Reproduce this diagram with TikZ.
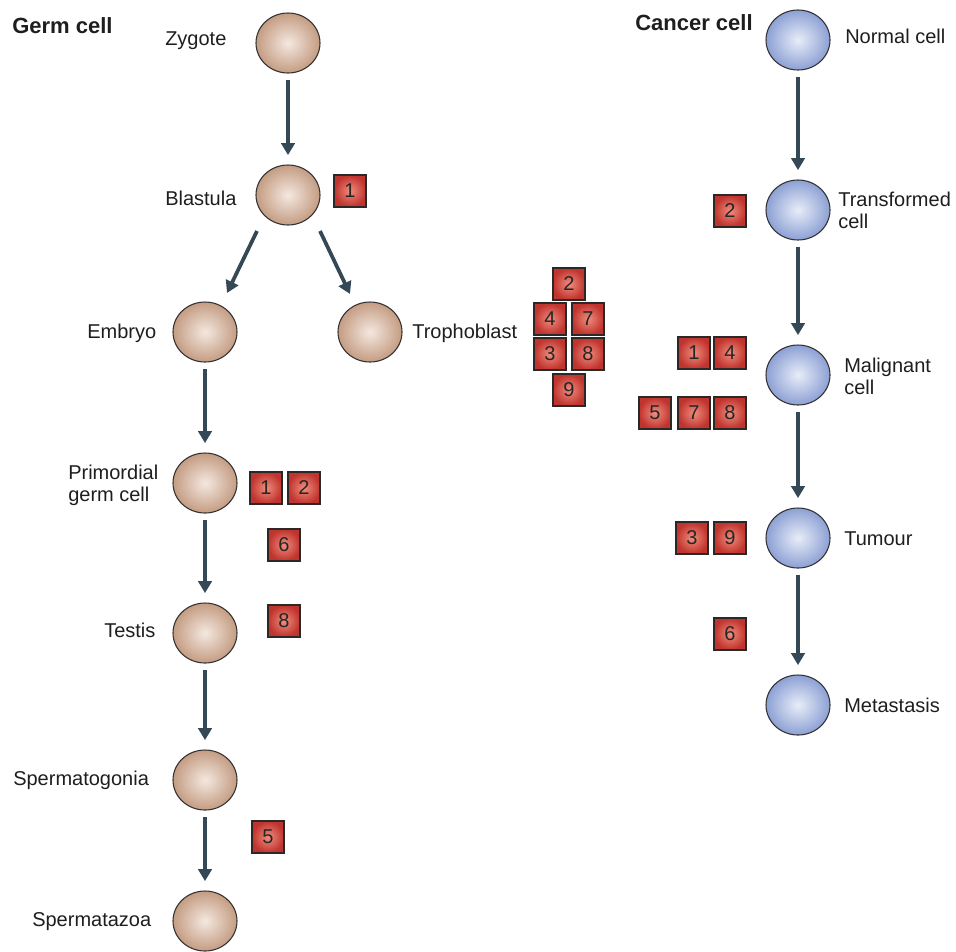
\documentclass[tikz,border=0pt]{standalone}
\usepackage{fontspec}
\setmainfont{Liberation Sans}
\usetikzlibrary{arrows.meta,shapes.geometric,calc}
\definecolor{germin}{RGB}{244,232,224}
\definecolor{germout}{RGB}{196,156,130}
\definecolor{cancin}{RGB}{232,237,248}
\definecolor{cancout}{RGB}{140,160,212}
\definecolor{cellline}{RGB}{50,50,50}
\definecolor{tagin}{RGB}{240,140,125}
\definecolor{tagout}{RGB}{192,52,46}
\definecolor{tagline}{RGB}{45,40,40}
\definecolor{arrowc}{RGB}{52,72,86}
\definecolor{txt}{RGB}{30,30,30}
\begin{document}
\begin{tikzpicture}[x=0.75pt,y=-0.75pt,
  germ/.style={ellipse,draw=cellline,line width=0.8pt,minimum width=48pt,minimum height=45pt,inner sep=0pt,inner color=germin,outer color=germout},
  canc/.style={ellipse,draw=cellline,line width=0.8pt,minimum width=48pt,minimum height=45pt,inner sep=0pt,inner color=cancin,outer color=cancout},
  tag/.style={rectangle,draw=tagline,line width=1.3pt,minimum width=24pt,minimum height=23.5pt,inner sep=0pt,inner color=tagin,outer color=tagout,font=\fontsize{15}{17}\selectfont,text=black!85},
  lbl/.style={anchor=base west,inner sep=0pt,font=\fontsize{15}{18}\selectfont,text=txt},
  lbltwo/.style={anchor=west,inner sep=0pt,align=left,font=\fontsize{15}{16.5}\selectfont,text=txt},
  ttl/.style={anchor=base west,inner sep=0pt,font=\fontsize{16.5}{18}\selectfont\bfseries,text=txt},
  flow/.style={draw=arrowc,line width=2.8pt,-{Triangle[length=9pt,width=10pt]},shorten <=5pt,shorten >=7pt},
  flowd/.style={draw=arrowc,line width=2.8pt,-{Triangle[length=9pt,width=10pt]}}
]
\useasboundingbox (0,0) rectangle (956,951);

% germ cell column
\node[germ] (zy) at (288,43) {};
\node[germ] (bl) at (288,195) {};
\node[germ] (em) at (205,332) {};
\node[germ] (tr) at (370,332) {};
\node[germ] (pg) at (205,483) {};
\node[germ] (te) at (205,633) {};
\node[germ] (sg) at (205,780) {};
\node[germ] (sz) at (205,921) {};

% cancer cell column
\node[canc] (nc) at (798,40) {};
\node[canc] (tc) at (798,210) {};
\node[canc] (mc) at (798,375) {};
\node[canc] (tu) at (798,538) {};
\node[canc] (me) at (798,705) {};

% labels
\node[ttl] (lgerm) at (12,33) {Germ cell};
\node[ttl] (lcanc) at (635,30) {Cancer cell};
\node[lbl] (lzy) at (165,45) {Zygote};
\node[lbl] (lbl1) at (165,205) {Blastula};
\node[lbl] (lem) at (87,338) {Embryo};
\node[lbl] (ltr) at (412,338) {Trophoblast};
\node[lbltwo] (lpg) at (68,485) {Primordial\\germ cell};
\node[lbl] (lte) at (104,637) {Testis};
\node[lbl] (lsg) at (13,785) {Spermatogonia};
\node[lbl] (lsz) at (32,926) {Spermatazoa};
\node[lbl] (lnc) at (845,43) {Normal cell};
\node[lbltwo] (ltc) at (838,210) {Transformed\\cell};
\node[lbltwo] (lmc) at (844,376) {Malignant\\cell};
\node[lbl] (ltu) at (844,545) {Tumour};
\node[lbl] (lme) at (844,712) {Metastasis};

% arrows
\draw[flow] (zy) -- (bl);
\draw[flowd] ($(bl.center)+(-31,36)$) -- ($(em.center)+(22,-39)$);
\draw[flowd] ($(bl.center)+(32,36)$) -- ($(tr.center)+(-20,-38)$);
\draw[flow] (em) -- (pg);
\draw[flow] (pg) -- (te);
\draw[flow] (te) -- (sg);
\draw[flow] (sg) -- (sz);
\draw[flow] (nc) -- (tc);
\draw[flow] (tc) -- (mc);
\draw[flow] (mc) -- (tu);
\draw[flow] (tu) -- (me);

% tags, germ side
\node[tag] (g1) at (350,191) {1};
\node[tag] (g2a) at (266,488) {1};
\node[tag] (g2b) at (304,488) {2};
\node[tag] (g3) at (284,545) {6};
\node[tag] (g4) at (284,621) {8};
\node[tag] (g5) at (268,837) {5};

% trophoblast group
\node[tag] (tr2) at (569,284) {2};
\node[tag] (tr4) at (550,319) {4};
\node[tag] (tr7) at (588,319) {7};
\node[tag] (tr3) at (550,354) {3};
\node[tag] (tr8) at (588,354) {8};
\node[tag] (tr9) at (569,390) {9};

% cancer side
\node[tag] (c2) at (730,211) {2};
\node[tag] (c1) at (694,353) {1};
\node[tag] (c4) at (730,353) {4};
\node[tag] (c5) at (655,413) {5};
\node[tag] (c7) at (694,413) {7};
\node[tag] (c8) at (730,413) {8};
\node[tag] (c3) at (692,538) {3};
\node[tag] (c9) at (730,538) {9};
\node[tag] (c6) at (730,634) {6};
\end{tikzpicture}
\end{document}
